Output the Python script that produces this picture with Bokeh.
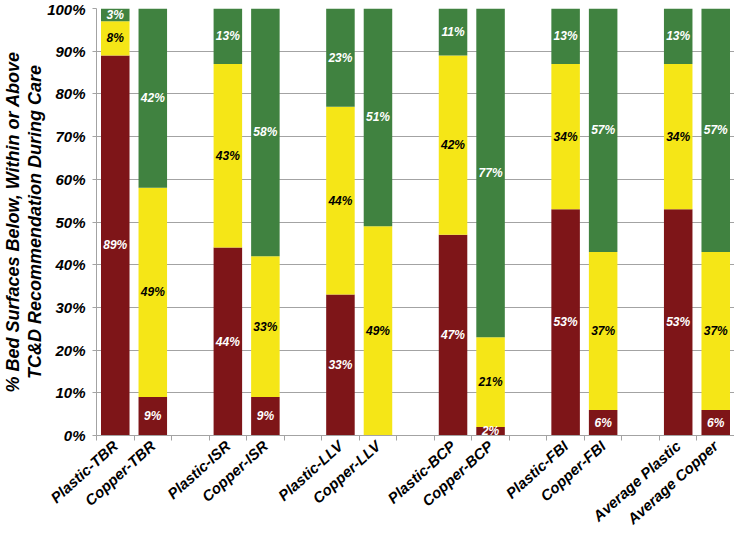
import math
from bokeh.plotting import figure
from bokeh.models import ColumnDataSource, FixedTicker, LabelSet, Title
from bokeh.core.properties import value
from bokeh.embed import file_html
from bokeh.resources import INLINE

# ---- data ----
categories = ["Plastic-TBR", "Copper-TBR", "Plastic-ISR", "Copper-ISR",
              "Plastic-LLV", "Copper-LLV", "Plastic-BCP", "Copper-BCP",
              "Plastic-FBI", "Copper-FBI", "Average Plastic", "Average Copper"]
below = [89, 9, 44, 9, 33, 0, 47, 2, 53, 6, 53, 6]
within = [8, 49, 43, 33, 44, 49, 42, 21, 34, 37, 34, 37]
above = [3, 42, 13, 58, 23, 51, 11, 77, 13, 57, 13, 57]
y_ticks = list(range(0, 101, 10))
y_title = ["TC&D Recommendation During Care", "% Bed Surfaces Below, Within or Above"]

# ---- styling ----
colors = ["#7e1518", "#f5e617", "#408240"]
label_colors = ["white", "black", "white"]
FONT = "Liberation Sans"

# slot positions: pairs separated by an empty slot
xpos = [3 * (i // 2) + (i % 2) + 0.5 for i in range(len(categories))]
n_slots = 3 * (len(categories) // 2) - 1

p = figure(width=734, height=536, output_backend="svg", toolbar_location=None,
           x_range=(0, n_slots), y_range=(0, 100),
           min_border_left=89, min_border_right=0, min_border_top=8,
           min_border_bottom=100)
p.outline_line_color = None
p.background_fill_color = "white"

series = [below, within, above]
bottoms = [0] * len(categories)
for s, vals in enumerate(series):
    tops = [b + v for b, v in zip(bottoms, vals)]
    src = ColumnDataSource(dict(x=xpos, bottom=bottoms, top=tops,
                                mid=[(b + t) / 2 for b, t in zip(bottoms, tops)],
                                txt=[f"{v}%" if v > 0 else "" for v in vals]))
    p.vbar(x="x", width=0.76, bottom="bottom", top="top", source=src,
           fill_color=colors[s], line_color=None)
    p.add_layout(LabelSet(x="x", y="mid", text="txt", source=src,
                          text_align="center", text_baseline="middle",
                          text_font=value(FONT), text_font_size="12px",
                          text_font_style="bold italic",
                          text_color=label_colors[s]))
    bottoms = tops

# grid
p.xgrid.grid_line_color = None
p.ygrid.ticker = FixedTicker(ticks=y_ticks)
p.ygrid.grid_line_color = "#a3a3a3"
p.ygrid.grid_line_width = 1
p.ygrid.level = "underlay"

# y axis
yax = p.yaxis[0]
yax.ticker = FixedTicker(ticks=y_ticks)
yax.major_label_overrides = {t: f"{t}%" for t in y_ticks}
yax.major_label_text_font = FONT
yax.major_label_text_font_size = "15px"
yax.major_label_text_font_style = "bold italic"
yax.major_label_text_color = "black"
yax.axis_line_color = "#a3a3a3"
yax.major_tick_line_color = "#a3a3a3"
yax.major_tick_out = 4
yax.major_tick_in = 0
yax.minor_tick_line_color = None
yax.minor_tick_out = 0
yax.major_label_standoff = 7

# y axis title: two lines as left-side titles
for line in y_title:
    p.add_layout(Title(text=line, align="center", offset=-13, standoff=0,
                       text_font=FONT, text_font_size="18px",
                       text_font_style="bold italic", text_color="black",
                       text_line_height=1.0), "left")

# x axis
xax = p.xaxis[0]
xax.ticker = FixedTicker(ticks=xpos, minor_ticks=list(range(n_slots + 1)))
xax.major_label_overrides = {x: c for x, c in zip(xpos, categories)}
xax.major_label_orientation = math.radians(42)
xax.major_label_text_font = FONT
xax.major_label_text_font_size = "15px"
xax.major_label_text_font_style = "bold italic"
xax.major_label_text_color = "black"
xax.major_tick_line_color = None
xax.major_tick_out = 0
xax.major_tick_in = 0
xax.minor_tick_line_color = "#a3a3a3"
xax.minor_tick_out = 5
xax.minor_tick_in = 0
xax.axis_line_color = "#a3a3a3"
xax.major_label_standoff = 3

open("out.html", "w").write(file_html(p, INLINE))
